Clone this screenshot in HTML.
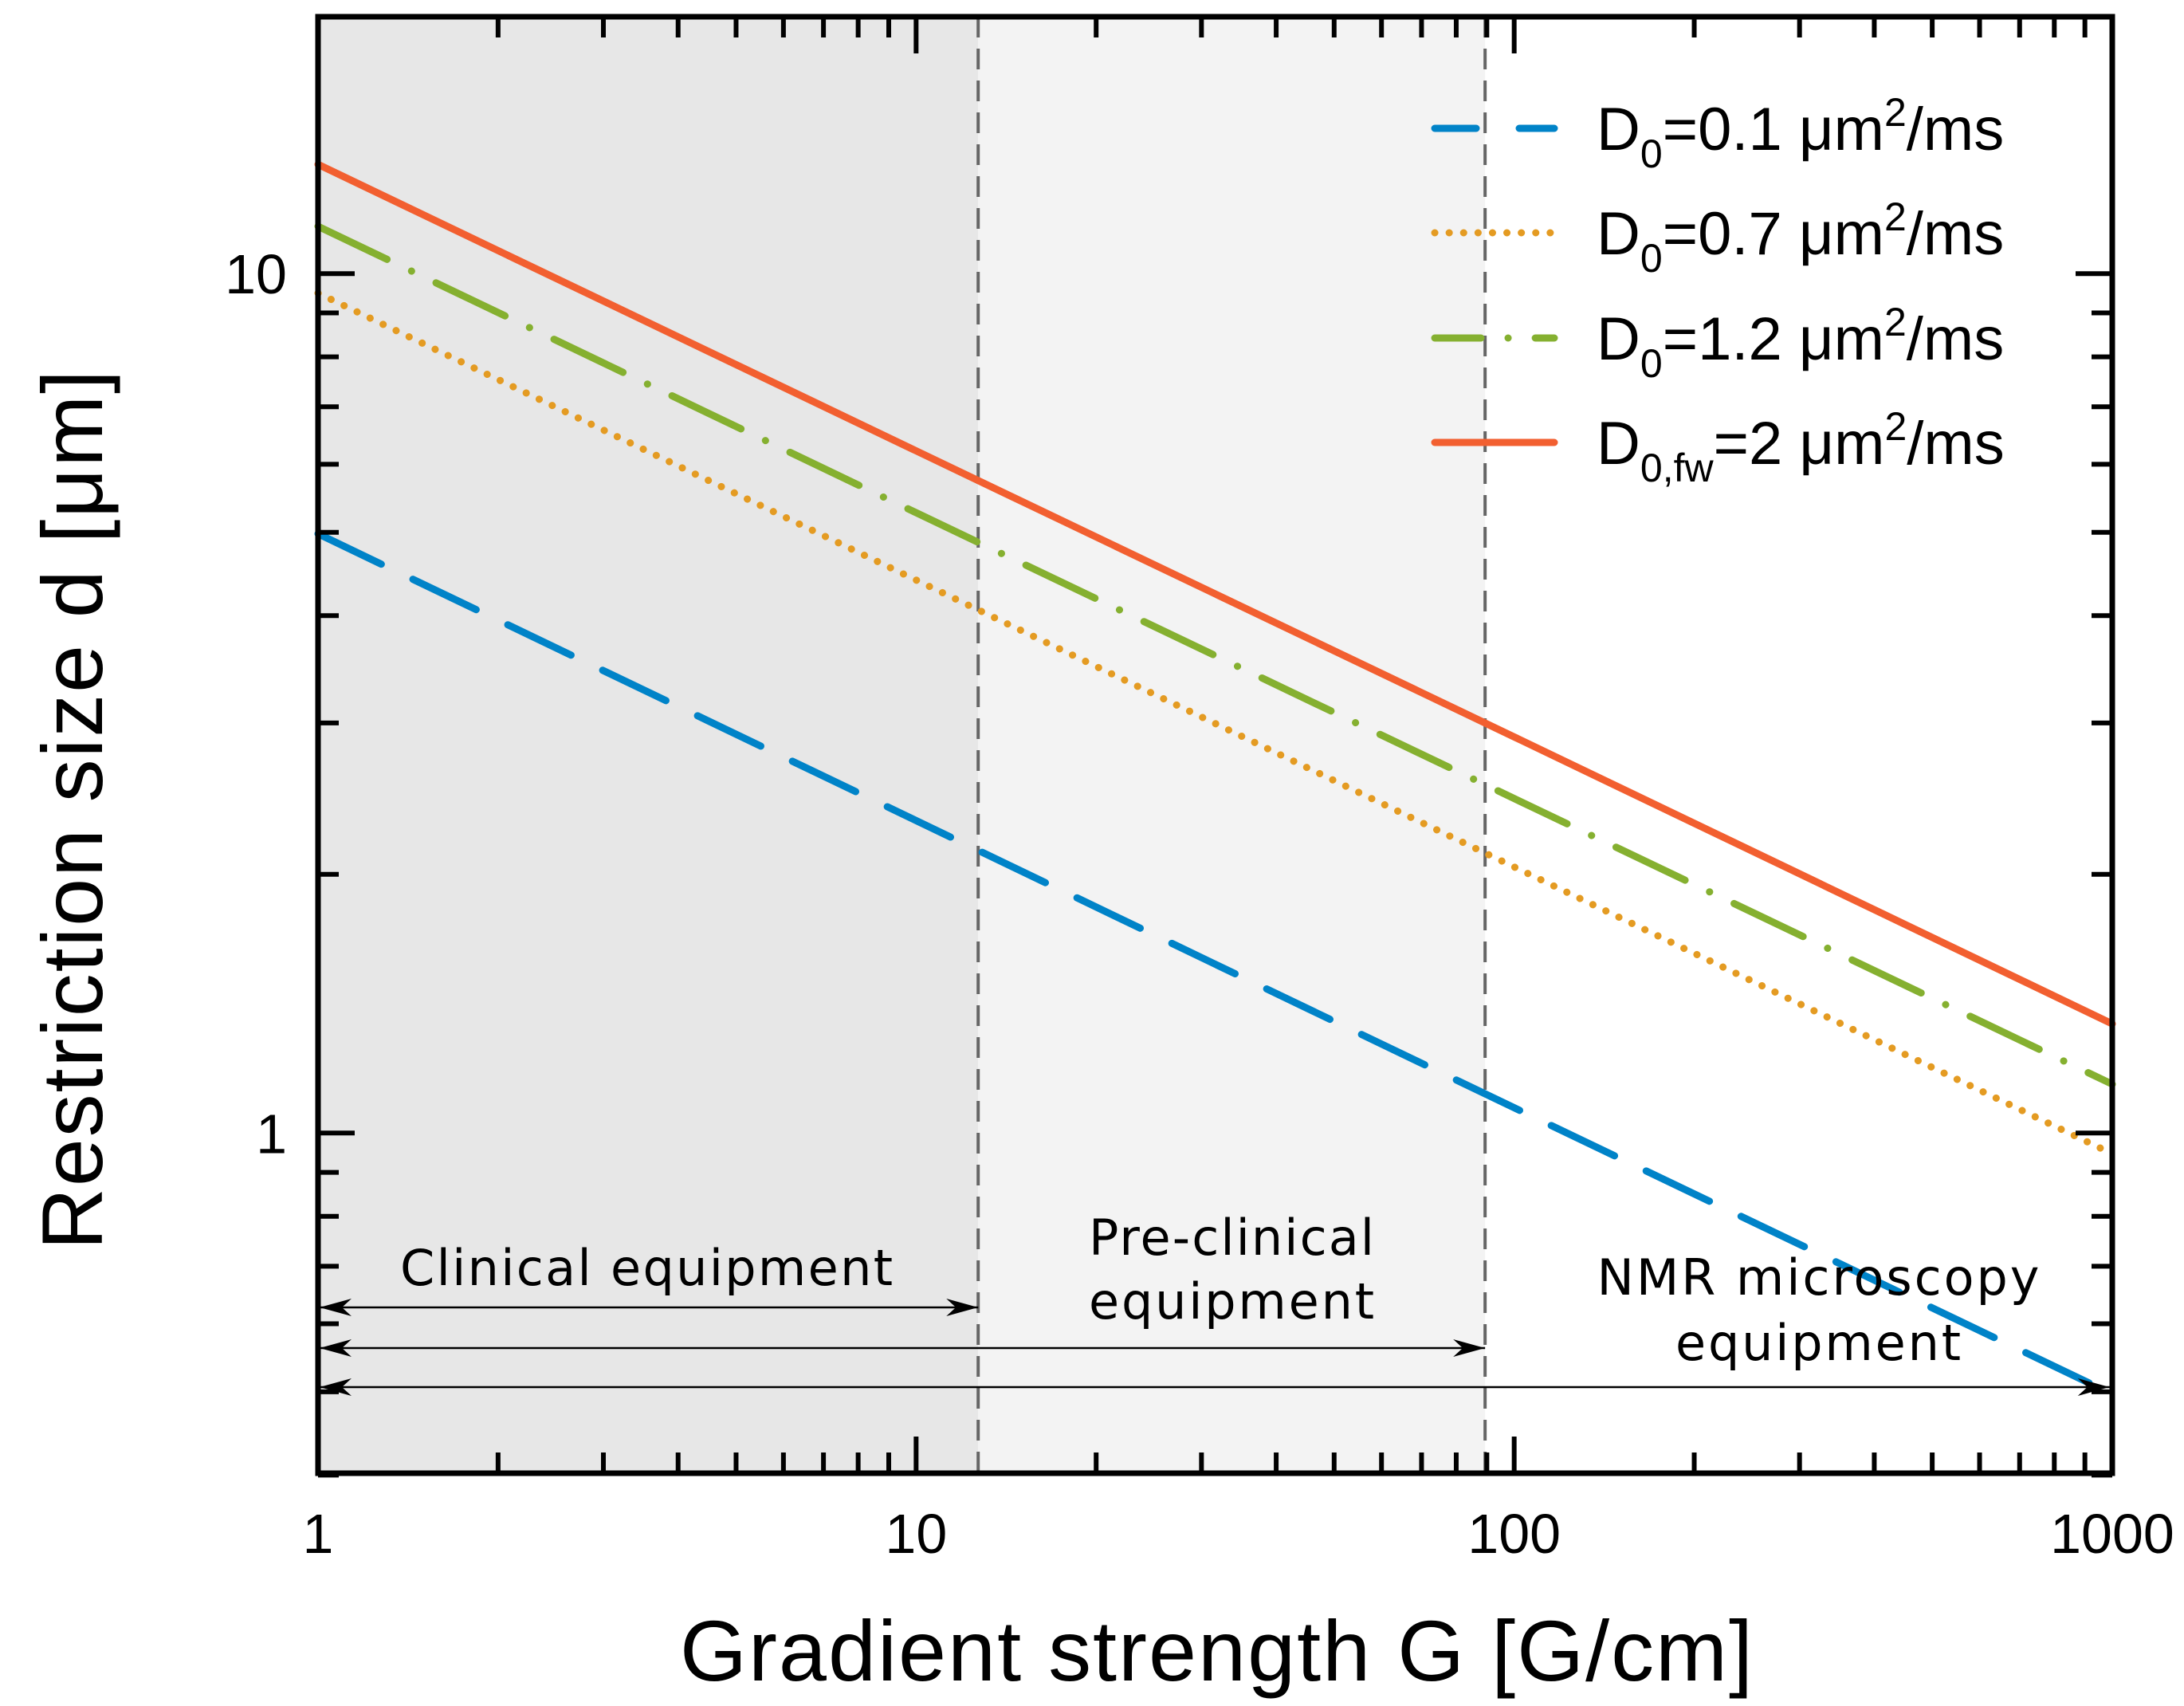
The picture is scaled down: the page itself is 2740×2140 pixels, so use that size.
<!DOCTYPE html>
<html><head><meta charset="utf-8"><style>
html,body{margin:0;padding:0;background:#fff;}
svg{display:block;}
</style></head><body>
<svg id="chart" width="2740" height="2140" viewBox="0 0 2740 2140" xmlns="http://www.w3.org/2000/svg">
<g id="bg"></g><g id="series"></g><g id="annot"></g><g id="axes"></g><g id="legend"></g>
</svg>
<script>
const gradients = [1, 10, 100, 1000];
const dBlue = [4.98, 2.31, 1.07, 0.497];
const dOrange = [9.49, 4.40, 2.04, 0.946];
const dGreen = [11.35, 5.27, 2.45, 1.14];
const dRed = [13.4, 6.22, 2.89, 1.34];
const seriesLabels = ["D0=0.1", "D0=0.7", "D0=1.2", "D0,fw=2"];
const regionBounds = [12.7, 89.4];
const xTickLabels = ["1", "10", "100", "1000"];
const yTickLabels = ["1", "10"];
const yTickValues = [1, 10];

const NS = "http://www.w3.org/2000/svg";
const L = 399, R = 2650, T = 21, B = 1848;
const X0 = 1, X1 = 1000, Y0 = 0.402, Y1 = 19.9;
function xs(g){ return L + (R-L)*(Math.log10(g)-Math.log10(X0))/(Math.log10(X1)-Math.log10(X0)); }
function ys(d){ return B - (B-T)*(Math.log10(d)-Math.log10(Y0))/(Math.log10(Y1)-Math.log10(Y0)); }
function mk(tag, attrs, parent){ const e=document.createElementNS(NS,tag); for(const k in attrs) e.setAttribute(k,attrs[k]); parent.appendChild(e); return e; }

const bg = document.getElementById('bg');
let r1 = mk('rect',{x:L,y:T,width:xs(regionBounds[0])-L,height:B-T,fill:'#e7e7e7'},bg);


let r2 = mk('rect',{x:xs(regionBounds[0]),y:T,width:xs(regionBounds[1])-xs(regionBounds[0]),height:B-T,fill:'#f3f3f3'},bg);


regionBounds.forEach((g,i)=>{
  const l = mk('line',{x1:xs(g),x2:xs(g),y1:T,y2:B,stroke:'#666',"stroke-width":4,"stroke-dasharray":"26 14"},bg);
  
  
});

const styles = [
  {data:dBlue,color:'#0083c8',dash:'88 44',name:'series-d0-0.1'},
  {data:dOrange,color:'#e49b22',dash:'0.1 18',name:'series-d0-0.7'},
  {data:dGreen,color:'#85b030',dash:'96 34 0.1 34',name:'series-d0-1.2'},
  {data:dRed,color:'#f25f30',dash:'',name:'series-d0fw-2'}
];
const sg = document.getElementById('series');
styles.forEach(s=>{
  const pts = gradients.map((g,i)=>xs(g).toFixed(1)+','+ys(s.data[i]).toFixed(1)).join(' ');
  const p = mk('polyline',{points:pts,fill:'none',stroke:s.color,"stroke-width":9,"stroke-linecap":"round","stroke-dasharray":s.dash},sg);
  
  
});

const an = document.getElementById('annot');
mk('defs',{},an).innerHTML='<marker id="ah" viewBox="0 0 10 10" refX="10" refY="5" markerWidth="40" markerHeight="22" markerUnits="userSpaceOnUse" orient="auto-start-reverse" preserveAspectRatio="none"><path d="M0,0 L10,5 L0,10 L3,5 z" fill="#000"/></marker>';
const arrows = [[1640, regionBounds[0]],[1691, regionBounds[1]],[1740, 990]];
arrows.forEach((a,i)=>{
  const l = mk('line',{x1:L+2,x2:xs(a[1]),y1:a[0],y2:a[0],stroke:'#000',"stroke-width":2.5,"marker-start":"url(#ah)","marker-end":"url(#ah)"},an);
  
  
});
function txt(s,x,y,opts,parent,name){
  const t = mk('text',Object.assign({x:x,y:y},opts),parent);
  t.textContent = s;
  
  
  return t;
}
const af = {"font-family":"DejaVu Sans, sans-serif","font-size":62,"text-anchor":"middle",fill:'#000'};
txt("Clinical equipment",811,1612,Object.assign({textLength:618},af),an,'clinical-label');
txt("Pre-clinical",1545,1574,Object.assign({textLength:358},af),an,'preclinical-label-line1');
txt("equipment",1545,1654,Object.assign({textLength:358},af),an,'preclinical-label-line2');
txt("NMR microscopy",2281,1624,Object.assign({textLength:555},af),an,'nmr-label-line1');
txt("equipment",2281,1706,Object.assign({textLength:358},af),an,'nmr-label-line2');

const ax = document.getElementById('axes');
const frame = mk('rect',{x:L,y:T,width:R-L,height:B-T,fill:'none',stroke:'#000',"stroke-width":7},ax);


for(let dec=1; dec<1000; dec*=10){
  for(let m=1;m<10;m++){
    const g=dec*m, x=xs(g), len = m===1?46:26;
    if(m===1 && dec===1) continue;
    mk('line',{x1:x,x2:x,y1:B,y2:B-len,stroke:'#000',"stroke-width":6},ax);
    mk('line',{x1:x,x2:x,y1:T,y2:T+len,stroke:'#000',"stroke-width":6},ax);
  }
}
[0.4,0.5,0.6,0.7,0.8,0.9,1,2,3,4,5,6,7,8,9,10].forEach(v=>{
  const y=ys(v), len=(v===1||v===10)?46:26;
  mk('line',{x1:L,x2:L+len,y1:y,y2:y,stroke:'#000',"stroke-width":6},ax);
  mk('line',{x1:R,x2:R-len,y1:y,y2:y,stroke:'#000',"stroke-width":6},ax);
});
const tf = {"font-family":"Liberation Sans, sans-serif","font-size":70,fill:'#000'};
gradients.forEach((g,i)=>{
  txt(xTickLabels[i],xs(g),1948,Object.assign({"text-anchor":"middle"},tf),ax,'x-tick-'+xTickLabels[i]);
});
yTickValues.forEach((v,i)=>{
  txt(yTickLabels[i],360,ys(v)+25,Object.assign({"text-anchor":"end"},tf),ax,'y-tick-'+yTickLabels[i]);
});
txt("Gradient strength G [G/cm]",1526,2108,{"font-family":"Liberation Sans, sans-serif","font-size":108,"text-anchor":"middle",textLength:1346,fill:'#000'},ax,'x-axis-title');
txt("Restriction size d [\u03bcm]",0,0,{"font-family":"Liberation Sans, sans-serif","font-size":108,"text-anchor":"middle",textLength:1104,fill:'#000',transform:"translate(128,1016) rotate(-90)"},ax,'y-axis-title');

const lg = document.getElementById('legend');
const lrows = [161,292,424,555];
const lt = [["0","=0.1 "],["0","=0.7 "],["0","=1.2 "],["0,fw","=2 "]];
styles.forEach((s,i)=>{
  const g = mk('g',{},lg);
  
  
  mk('line',{x1:1800,x2:1950,y1:lrows[i],y2:lrows[i],stroke:s.color,"stroke-width":9,"stroke-linecap":"round","stroke-dasharray":s.dash==='88 44'?'52 54':(s.dash==='96 34 0.1 34'?'58 34 0.1 34':s.dash)},g);
  const t = mk('text',{x:2003,y:lrows[i]+27,"font-family":"Liberation Sans, sans-serif","font-size":76,fill:'#000'},g);
  t.innerHTML = 'D<tspan font-size="50" dy="22">'+lt[i][0]+'</tspan><tspan dy="-22">'+lt[i][1]+'\u03bcm</tspan><tspan font-size="50" dy="-30">2</tspan><tspan dy="30">/ms</tspan>';
});
</script>
</body></html>
